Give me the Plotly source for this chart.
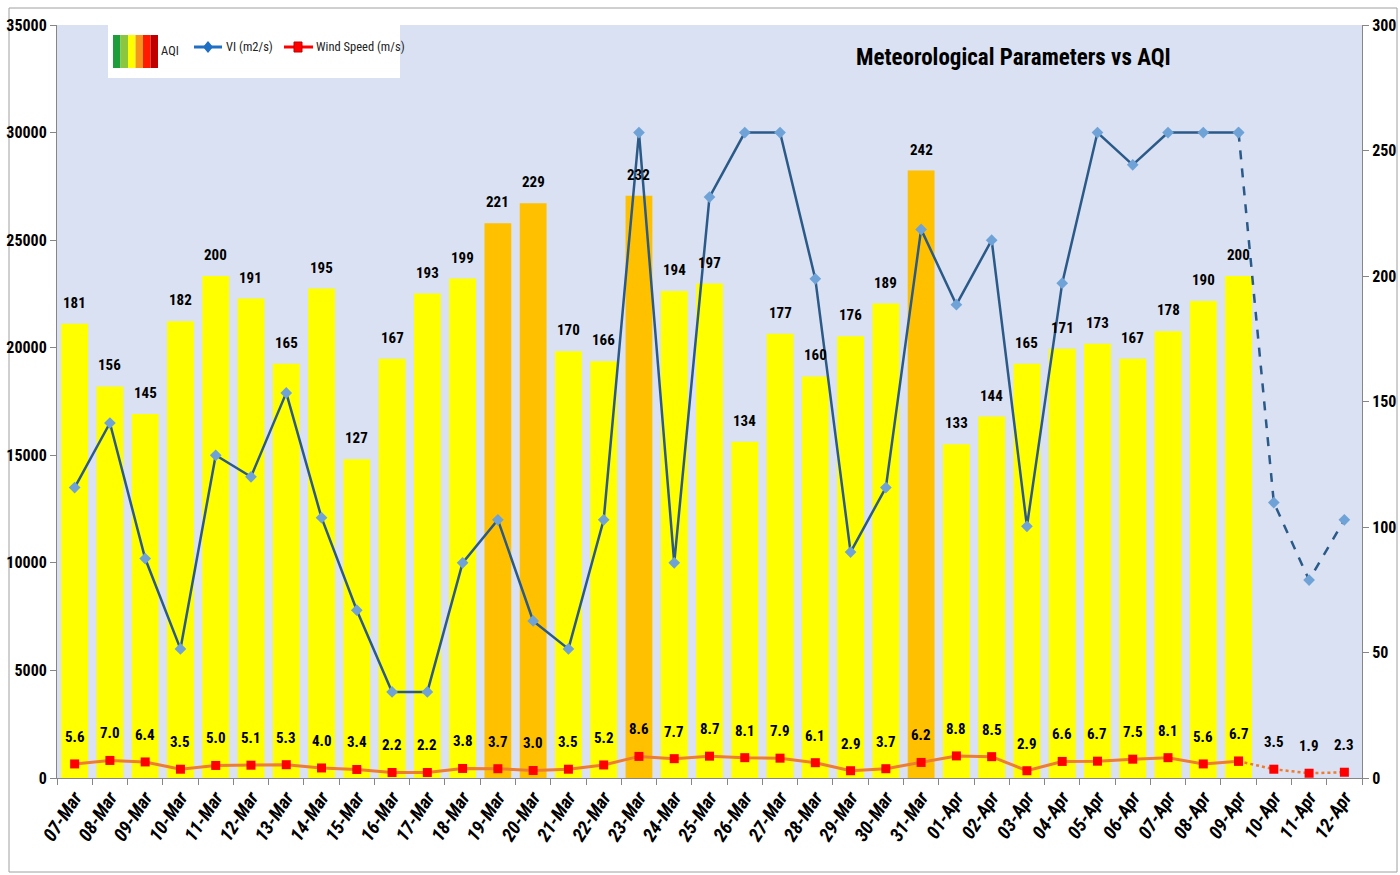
import plotly.graph_objects as go

dates = ["07-Mar","08-Mar","09-Mar","10-Mar","11-Mar","12-Mar","13-Mar","14-Mar","15-Mar","16-Mar",
         "17-Mar","18-Mar","19-Mar","20-Mar","21-Mar","22-Mar","23-Mar","24-Mar","25-Mar","26-Mar",
         "27-Mar","28-Mar","29-Mar","30-Mar","31-Mar","01-Apr","02-Apr","03-Apr","04-Apr","05-Apr",
         "06-Apr","07-Apr","08-Apr","09-Apr","10-Apr","11-Apr","12-Apr"]
aqi = [181,156,145,182,200,191,165,195,127,167,193,199,221,229,170,166,232,194,197,134,
       177,160,176,189,242,133,144,165,171,173,167,178,190,200]
vi = [13500,16500,10200,6000,15000,14000,17900,12100,7800,4000,4000,10000,12000,7300,6000,12000,
      30000,10000,27000,30000,30000,23200,10500,13500,25500,22000,25000,11700,23000,30000,28500,
      30000,30000,30000,12800,9200,12000]
wind = [5.6,7.0,6.4,3.5,5.0,5.1,5.3,4.0,3.4,2.2,2.2,3.8,3.7,3.0,3.5,5.2,8.6,7.7,8.7,8.1,7.9,6.1,
        2.9,3.7,6.2,8.8,8.5,2.9,6.6,6.7,7.5,8.1,5.6,6.7,3.5,1.9,2.3]
left_ticks = [0,5000,10000,15000,20000,25000,30000,35000]
right_ticks = [0,50,100,150,200,250,300]

n_obs = len(aqi)
FONT = "Liberation Sans Narrow, Roboto Condensed, Arial Narrow, Liberation Sans, sans-serif"

bar_colors = ["#FFC000" if v > 200 else "#FFFF00" for v in aqi]

fig = go.Figure()
fig.add_trace(go.Bar(x=dates[:n_obs], y=aqi, marker=dict(color=bar_colors, line=dict(width=0)),
                     width=0.76, yaxis="y", name="AQI"))
fig.add_trace(go.Scatter(x=dates[:n_obs], y=wind[:n_obs], mode="lines+markers",
                         line=dict(color="#ED7D31", width=3),
                         marker=dict(symbol="square", size=9, color="#FF0000"),
                         yaxis="y", name="Wind Speed (m/s)"))
fig.add_trace(go.Scatter(x=dates[n_obs-1:], y=wind[n_obs-1:], mode="lines+markers",
                         line=dict(color="#ED7D31", width=2.5, dash="dot"),
                         marker=dict(symbol="square", size=9, color="#FF0000"),
                         yaxis="y", showlegend=False))
fig.add_trace(go.Scatter(x=dates[:n_obs], y=vi[:n_obs], mode="lines+markers",
                         line=dict(color="#2B5A88", width=2.5),
                         marker=dict(symbol="diamond", size=9, color="#6FA3D8"),
                         yaxis="y2", name="VI (m2/s)"))
fig.add_trace(go.Scatter(x=dates[n_obs-1:], y=vi[n_obs-1:], mode="lines+markers",
                         line=dict(color="#2B5A88", width=2.5, dash="dash"),
                         marker=dict(symbol="diamond", size=9, color="#6FA3D8"),
                         yaxis="y2", showlegend=False))

lbl_font = dict(family=FONT, size=15, color="black", weight="bold")
for d, a in zip(dates, aqi):
    fig.add_annotation(x=d, y=a, xref="x", yref="y", text=str(a), showarrow=False,
                       yshift=21, font=lbl_font)
for d, w in zip(dates, wind):
    fig.add_annotation(x=d, y=w, xref="x", yref="y", text=f"{w:.1f}", showarrow=False,
                       yshift=27, font=lbl_font)

# plot area in page pixels
L, R, T, B = 57, 1362, 25, 778
def px(x): return (x - L) / (R - L)
def py(y): return (B - y) / (B - T)

shapes = []
shapes.append(dict(type="rect", xref="paper", yref="paper", x0=px(108), x1=px(400), y0=py(78), y1=py(25),
                   fillcolor="white", line=dict(width=0), layer="above"))
strip_cols = ["#1E9E3A", "#8CC63F", "#FFFF00", "#F7941D", "#FF1A00", "#C00000"]
for i, c in enumerate(strip_cols):
    shapes.append(dict(type="rect", xref="paper", yref="paper", x0=px(113 + 7.5 * i), x1=px(113 + 7.5 * (i + 1)),
                       y0=py(68), y1=py(35), fillcolor=c, line=dict(width=0), layer="above"))
shapes.append(dict(type="line", xref="paper", yref="paper", x0=px(194), x1=px(222), y0=py(47), y1=py(47),
                   line=dict(color="#1F6FC5", width=3), layer="above"))
shapes.append(dict(type="path", xref="paper", yref="paper",
                   path=f"M {px(208)},{py(41)} L {px(213)},{py(47)} L {px(208)},{py(53)} L {px(203)},{py(47)} Z",
                   fillcolor="#1F6FC5", line=dict(width=0), layer="above"))
shapes.append(dict(type="line", xref="paper", yref="paper", x0=px(284), x1=px(313), y0=py(47), y1=py(47),
                   line=dict(color="#FF0000", width=3), layer="above"))
shapes.append(dict(type="rect", xref="paper", yref="paper", x0=px(294), x1=px(302), y0=py(52), y1=py(42),
                   fillcolor="#FF0000", line=dict(color="#C00000", width=1), layer="above"))
shapes.append(dict(type="rect", xref="paper", yref="paper", x0=px(9), x1=px(1397), y0=py(872), y1=py(8),
                   line=dict(color="#A0A0A0", width=1), fillcolor="rgba(0,0,0,0)", layer="below"))

lg_font = dict(family=FONT, size=12.5, color="#222222")
fig.add_annotation(xref="paper", yref="paper", x=px(159), y=py(51), text="AQI", showarrow=False,
                   xanchor="left", yanchor="middle", font=lg_font)
fig.add_annotation(xref="paper", yref="paper", x=px(224), y=py(47), text="VI (m2/s)", showarrow=False,
                   xanchor="left", yanchor="middle", font=lg_font)
fig.add_annotation(xref="paper", yref="paper", x=px(314), y=py(47), text="Wind Speed (m/s)", showarrow=False,
                   xanchor="left", yanchor="middle", font=lg_font)
fig.add_annotation(xref="paper", yref="paper", x=px(1013), y=py(58), text="<b>Meteorological Parameters vs AQI</b>",
                   showarrow=False, xanchor="center", yanchor="middle",
                   font=dict(family=FONT, size=23, color="black"))

axis_font = dict(family=FONT, size=16, color="black", weight="bold")
fig.update_layout(
    width=1400, height=875,
    margin=dict(l=57, r=38, t=25, b=97, autoexpand=False),
    paper_bgcolor="white", plot_bgcolor="#D9E1F2",
    showlegend=False, shapes=shapes, bargap=0.24,
    xaxis=dict(type="category", categoryorder="array", categoryarray=dates, automargin=False,
               tickangle=-57, tickson="boundaries", ticks="outside", ticklen=6, tickcolor="#868686",
               showline=True, linecolor="#868686", linewidth=1, showgrid=False,
               tickfont=dict(family=FONT, size=19, color="black", weight="bold", style="italic"),
               range=[-0.5, len(dates) - 0.5]),
    yaxis=dict(side="right", range=[0, 300], tickvals=right_ticks, ticks="outside", ticklen=6,
               automargin=False, tickformat="d",
               tickcolor="#868686", showline=True, linecolor="#868686", showgrid=False, zeroline=False,
               tickfont=axis_font),
    yaxis2=dict(side="left", overlaying="y", range=[0, 35000], tickvals=left_ticks, ticks="outside", ticklen=6,
                automargin=False, tickformat="d",
                tickcolor="#868686", showline=True, linecolor="#868686", showgrid=False, zeroline=False,
                tickfont=axis_font),
)
fig.write_html("out.html", config={"displayModeBar": False},
               post_script="document.body.style.margin='0';document.body.style.overflow='hidden';")
